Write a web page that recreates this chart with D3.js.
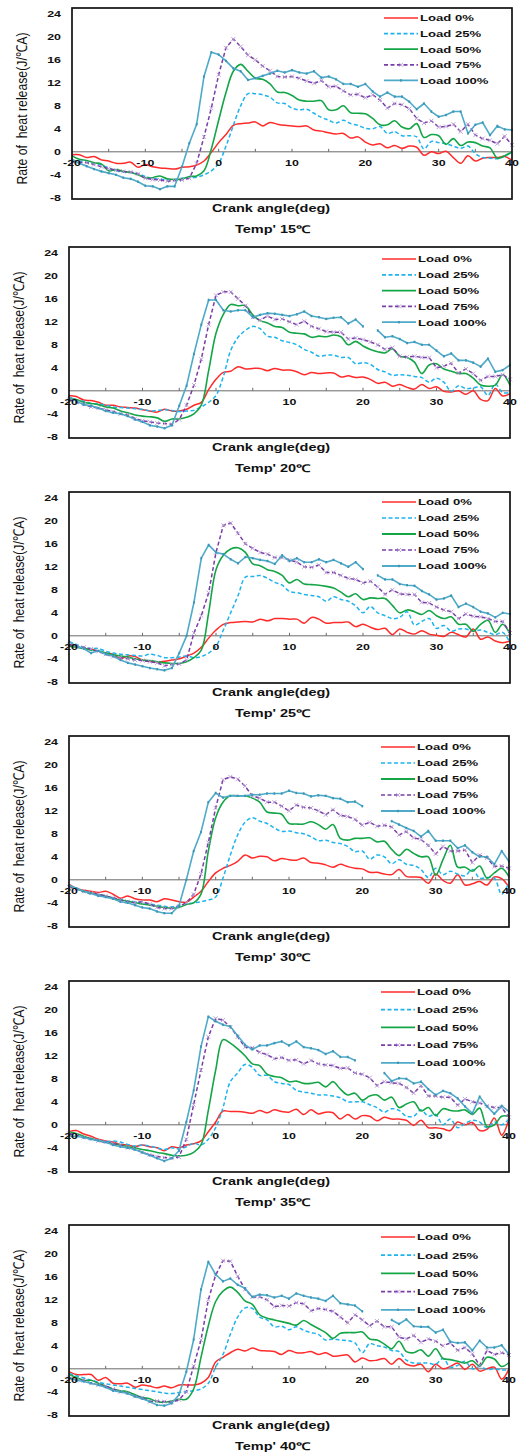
<!DOCTYPE html>
<html>
<head>
<meta charset="utf-8">
<script src="https://cdn.jsdelivr.net/npm/d3@7"></script>
<style>
  html, body { margin: 0; padding: 0; background: #fff; }
  svg { display: block; }
</style>
</head>
<body>
<script>
// Crank angle axis (deg)
const crankAngles = [-20,-19,-18,-17,-16,-15,-14,-13,-12,-11,-10,-9,-8,-7,-6,-5,-4,-3,-2,-1,
  0,1,2,3,4,5,6,7,8,9,10,11,12,13,14,15,16,17,18,19,20,21,22,23,24,25,26,27,28,29,30,
  31,32,33,34,35,36,37,38,39,40];

const loadNames = ["Load 0%", "Load 25%", "Load 50%", "Load 75%", "Load 100%"];
const tempTitles = ["Temp' 15\u2103", "Temp' 20\u2103", "Temp' 25\u2103", "Temp' 30\u2103", "Temp' 35\u2103", "Temp' 40\u2103"];
const yTickValues = [-8, -4, 0, 4, 8, 12, 16, 20, 24];
const xTickValues = [-20, -10, 0, 10, 20, 30, 40];
const xTickMarks = [-15, -10, -5, 0, 5, 10, 15, 20, 25, 30, 35];

// Rate of heat release (J/°CA), one array per intake temperature and load
const rhr15_load0 = [-0.5,-0.5,-1.0,-0.8,-1.4,-1.6,-2.0,-2.0,-1.8,-2.7,-2.2,-2.6,-2.8,-2.9,-3.0,-2.7,-2.6,-2.3,-1.6,-0.1,
  1.6,3.0,4.6,4.9,5.0,5.2,4.5,5.1,4.8,4.6, 4.5,4.4,4.5,3.8,3.6,3.3,3.1,3.2,2.4,2.6,
  1.7,1.2,1.4,0.7,1.1,0.6,1.0,0.8,-0.6,0.0, -0.3,0.1,-1.0,-2.0,-0.7,-1.6,-1.1,-1.0,-1.0,-0.8, -1.5];
const rhr15_load25 = [-1.5,-1.6,-1.8,-2.0,-2.3,-2.8,-3.3,-3.5,-3.6,-3.8,-4.3,-4.6,-4.8,-4.8,-4.8,-4.6,-4.5,-4.4,-4.0,-3.3,
  -2.0,1.0,4.6,8.0,10.1,10.1,9.9,9.5,8.5,8.4, 7.6,7.3,7.4,6.7,6.0,5.5,5.0,5.5,4.9,4.6,
  4.1,4.0,4.4,3.2,3.5,2.8,2.8,2.6,0.5,1.8, 1.6,1.4,1.0,0.6,1.0,-0.3,-1.0,-1.1,-1.2,-0.8, 0.0];
const rhr15_load50 = [-0.7,-1.3,-1.5,-1.9,-2.1,-3.3,-3.1,-3.4,-3.6,-4.0,-4.5,-4.5,-4.2,-4.7,-4.8,-4.7,-4.3,-4.2,-3.3,0.5,
  5.5,10.3,14.0,15.2,14.0,12.8,12.6,11.8,10.4,10.3, 9.8,9.0,8.8,8.8,8.9,7.3,7.3,8.0,6.8,6.7,
  6.6,5.8,4.7,4.7,5.4,4.3,4.0,4.9,2.5,3.0, 2.8,1.3,2.3,1.1,1.7,1.6,1.0,0.7,-1.1,-0.7, 0.0];
const rhr15_load75 = [-1.7,-1.8,-1.9,-2.2,-2.6,-2.9,-3.2,-3.4,-3.5,-3.8,-4.6,-4.8,-4.9,-5.1,-5.0,-4.9,-4.6,-2.0,2.6,7.6,
  13.4,18.1,19.6,18.3,16.8,16.0,14.9,14.1,13.1,13.0, 13.1,12.8,12.3,11.9,12.4,11.3,11.4,10.6,9.9,10.0,
  9.4,9.9,9.0,7.6,8.4,8.2,7.5,5.8,5.0,5.4, 4.3,4.4,4.8,3.5,4.8,2.9,2.3,2.0,1.4,2.7, 1.2];
const rhr15_load100 = [-1.3,-2.0,-2.5,-3.0,-3.4,-3.7,-4.0,-4.5,-4.7,-5.2,-5.9,-6.0,-6.5,-6.0,-6.0,-2.6,1.5,4.8,13.1,17.3,
  16.9,15.8,14.5,14.0,12.5,12.8,13.2,13.6,14.1,13.8, 14.2,13.8,13.6,14.0,12.9,13.1,12.6,11.8,11.8,11.3,
  11.8,10.5,9.6,10.3,9.6,9.6,8.7,7.4,8.4,7.0, 6.1,6.4,7.0,7.0,3.2,4.7,5.1,2.9,4.5,3.9, 3.8];

const rhr20_load0 = [-0.8,-1.0,-1.6,-1.7,-2.0,-2.5,-2.5,-2.8,-2.9,-3.0,-3.3,-3.5,-3.7,-3.2,-3.5,-3.5,-3.2,-2.5,-2.0,0.2,
  2.0,3.2,3.4,4.2,3.8,3.9,3.9,3.5,3.9,3.6, 3.6,3.3,2.8,3.2,3.0,3.1,3.1,2.4,2.6,2.3,
  2.4,2.0,1.3,1.5,0.8,1.1,0.6,0.3,1.1,0.4, 0.7,-0.1,-0.2,0.0,-0.6,0.0,-1.5,-1.7,0.4,-0.9, -0.5];
const rhr20_load25 = [-1.2,-1.8,-1.8,-2.2,-2.3,-2.5,-2.8,-2.9,-3.0,-3.1,-3.2,-3.5,-3.4,-3.3,-3.4,-3.6,-3.5,-3.4,-2.8,-2.0,
  -0.8,2.5,7.0,9.3,10.5,11.2,10.8,9.5,9.3,8.7, 8.4,8.0,7.2,6.7,6.0,6.2,6.2,5.8,5.8,4.7,
  4.9,4.6,3.7,3.3,2.7,2.8,2.7,2.5,2.3,1.5, 2.2,1.5,-0.1,0.9,0.4,0.5,0.7,-0.8,1.2,-0.3, -0.3];
const rhr20_load50 = [-1.2,-1.5,-2.0,-2.2,-2.4,-2.8,-3.0,-3.5,-3.8,-4.2,-4.4,-4.5,-4.7,-5.3,-4.9,-4.9,-4.6,-4.0,-2.5,3.5,
  10.0,13.3,15.0,14.8,14.8,13.2,12.2,11.8,11.2,11.0, 10.2,10.0,9.9,9.3,9.5,9.4,9.7,9.4,8.0,8.6,
  7.8,7.2,6.8,6.6,7.3,6.0,5.8,5.0,3.0,4.5, 4.7,3.8,3.4,3.0,3.0,2.2,1.0,0.8,1.0,2.8, 1.0];
const rhr20_load75 = [-1.5,-2.0,-2.3,-2.8,-3.0,-3.3,-3.6,-4.0,-4.2,-4.8,-5.2,-5.4,-5.6,-5.7,-5.8,-5.0,-2.5,1.0,5.5,11.5,
  16.6,17.2,17.2,16.0,14.8,12.8,12.3,13.0,12.4,12.5, 12.0,11.5,12.1,11.2,10.8,10.3,10.2,10.2,9.0,9.2,
  8.9,8.5,8.0,7.2,7.5,6.0,5.9,6.0,5.8,5.8, 4.0,4.3,4.8,3.1,3.8,3.0,1.8,2.5,2.5,2.8, 2.0];
const rhr20_load100 = [-1.0,-1.8,-2.4,-2.6,-3.0,-3.5,-3.8,-4.0,-4.4,-5.0,-5.4,-6.0,-6.2,-6.5,-6.0,-2.6,0.9,6.4,11.5,15.8,
  15.8,14.0,13.8,14.0,14.0,12.8,13.2,13.5,13.4,13.2, 13.0,13.3,13.8,13.0,12.8,12.5,12.7,12.8,11.7,12.4,
  11.2,null,10.5,9.3,9.5,9.0,8.3,8.5,8.0,8.0, 7.0,6.0,6.5,5.3,5.3,4.9,4.2,5.6,3.3,3.6, 4.5];

const rhr25_load0 = [-1.5,-1.8,-2.2,-2.3,-2.7,-3.0,-3.2,-4.0,-3.5,-3.6,-4.2,-4.4,-4.5,-4.4,-4.2,-4.0,-3.5,-3.0,-2.0,-0.4,
  1.0,2.0,2.3,2.4,2.5,2.4,2.9,2.6,3.0,3.0, 2.9,2.9,2.2,3.2,2.9,2.2,2.3,2.3,2.4,1.6,
  2.0,1.5,1.1,1.3,0.2,1.2,0.6,0.3,0.9,0.3, 0.1,-0.1,0.6,0.2,-0.2,1.2,-0.6,-0.2,-0.9,-1.2, -0.9];
const rhr25_load25 = [-1.0,-1.5,-2.0,-2.2,-2.2,-2.7,-3.0,-3.2,-3.3,-3.4,-3.5,-3.2,-3.4,-3.8,-3.8,-3.7,-3.5,-3.8,-3.6,-3.0,
  -1.8,1.0,4.0,7.0,10.2,10.3,10.5,10.0,9.3,8.8, 7.7,7.5,7.2,7.0,6.8,6.0,6.8,6.3,6.0,5.2,
  4.0,5.1,4.0,3.5,3.0,3.2,4.2,1.9,2.5,3.0, 1.3,1.8,0.8,1.2,1.2,0.8,1.0,0.6,0.2,0.6, -1.2];
const rhr25_load50 = [-1.8,-2.0,-2.2,-2.5,-2.6,-3.0,-3.3,-3.5,-3.7,-4.0,-4.2,-4.3,-4.5,-4.7,-4.8,-4.8,-4.5,-3.8,-2.5,4.0,
  11.5,14.0,15.1,15.3,14.5,12.5,12.2,11.5,11.2,10.5, 9.2,9.8,9.0,8.9,8.8,8.6,8.3,7.6,6.8,7.3,
  6.3,6.6,6.5,6.5,5.3,4.0,4.5,4.2,3.7,4.4, 3.5,3.0,3.3,2.0,2.0,0.8,2.0,2.7,0.6,2.0, 0.3];
const rhr25_load75 = [-1.5,-1.8,-2.0,-2.3,-2.7,-3.2,-3.6,-3.8,-4.0,-4.2,-4.3,-4.5,-4.7,-5.2,-5.0,-4.9,-4.2,0.5,3.5,7.5,
  14.5,19.2,19.6,17.8,16.0,15.2,14.5,14.2,13.6,13.6, 13.2,12.8,12.0,11.9,12.3,11.0,11.0,10.5,10.0,9.8,
  9.2,9.5,8.5,7.2,8.0,7.3,7.2,7.2,5.8,5.7, 5.0,4.5,4.2,3.0,3.8,3.4,3.3,3.0,2.5,2.5, 0.5];
const rhr25_load100 = [-1.0,-1.8,-2.2,-3.0,-2.6,-3.2,-3.5,-4.2,-4.7,-5.0,-5.3,-5.6,-5.8,-6.0,-5.6,-3.0,0.0,5.8,13.5,15.8,
  14.5,14.2,13.3,12.6,13.7,13.5,13.2,13.0,12.5,14.0, 13.0,13.5,12.8,12.8,13.3,12.8,13.2,12.6,12.0,12.8,
  11.6,null,10.5,9.8,9.8,9.0,8.8,8.7,7.8,7.2, 6.3,6.5,7.0,5.0,5.6,5.0,4.2,3.9,3.2,4.0, 3.8];

const rhr30_load0 = [-0.8,-1.5,-1.8,-2.0,-2.2,-2.0,-2.5,-3.2,-2.8,-3.3,-3.5,-3.5,-3.8,-3.3,-3.5,-3.8,-3.9,-3.0,-2.0,-0.3,
  1.2,2.0,2.5,3.2,4.3,3.8,4.1,4.0,3.3,3.7, 3.5,3.4,3.8,3.0,2.9,2.6,2.2,2.7,2.3,2.0,
  1.9,1.3,1.3,1.0,0.9,1.8,0.6,0.5,0.4,-0.6, 1.0,-0.1,-0.6,0.9,-0.9,-0.7,-0.3,-0.9,0.5,0.2, -1.3];
const rhr30_load25 = [-1.0,-1.5,-2.0,-2.5,-2.6,-3.0,-3.2,-3.4,-3.7,-3.8,-4.0,-4.2,-4.4,-4.6,-4.7,-4.5,-4.2,-4.0,-3.8,-3.5,
  -3.0,0.3,4.3,7.8,10.0,10.8,10.2,9.8,9.0,8.4, 8.5,8.2,8.0,7.5,6.8,6.9,6.5,6.3,5.8,4.9,
  5.0,3.6,4.3,4.0,2.8,3.5,2.7,2.5,1.8,0.4, 2.0,0.9,1.5,1.0,0.7,1.8,0.3,0.4,0.3,-2.5, -0.5];
const rhr30_load50 = [-1.0,-1.5,-2.0,-2.3,-2.6,-2.8,-3.2,-3.5,-3.7,-4.0,-4.2,-4.4,-4.6,-4.8,-4.9,-4.8,-4.3,-4.0,-2.5,5.0,
  10.8,13.5,14.6,14.6,14.6,14.2,13.5,11.8,11.6,11.4, 9.8,9.7,9.7,10.1,9.6,8.8,9.6,7.2,6.9,7.2,
  7.2,7.3,6.6,6.7,5.3,4.2,5.3,4.6,4.0,4.0, 0.8,3.5,6.0,2.2,2.2,1.5,2.4,0.3,1.2,2.0, 0.5];
const rhr30_load75 = [-1.2,-1.6,-2.0,-2.3,-2.5,-2.8,-3.1,-3.5,-3.8,-4.0,-3.8,-4.2,-4.8,-5.0,-5.0,-4.6,-4.0,-2.5,1.0,6.5,
  12.5,17.4,17.9,17.5,16.3,14.6,14.2,13.5,13.5,12.8, 12.0,13.0,12.6,12.5,12.0,11.3,12.2,11.2,11.0,10.5,
  9.5,10.0,9.3,9.5,9.2,7.8,8.4,7.3,7.0,6.0, 4.5,5.8,5.0,5.0,5.2,3.0,4.3,3.8,2.3,2.4, 2.0];
const rhr30_load100 = [-1.0,-1.5,-2.0,-2.3,-2.8,-3.0,-3.3,-3.8,-4.0,-4.4,-4.8,-5.0,-5.5,-5.8,-5.8,-4.5,0.0,5.0,8.3,13.5,
  15.1,14.3,14.6,14.6,14.6,14.8,14.8,15.0,15.0,15.0, 15.5,15.1,15.0,14.5,14.7,14.6,14.2,14.1,13.5,13.6,
  12.8,null,null,null,10.2,9.6,9.0,8.5,7.5,8.5, 6.8,6.8,6.8,5.5,6.0,4.8,4.0,4.0,2.7,5.0, 3.2];

const rhr35_load0 = [-1.2,-1.0,-1.6,-2.0,-2.5,-2.8,-3.0,-3.4,-3.5,-3.8,-3.5,-3.8,-4.0,-4.5,-3.8,-4.0,-3.5,-3.3,-2.8,-1.2,
  0.5,2.4,2.3,2.3,2.2,2.0,2.5,2.1,2.6,2.3, 2.2,2.7,1.8,2.6,1.9,2.2,2.1,1.0,1.8,1.0,
  1.6,1.5,0.7,1.3,1.0,1.0,0.8,-0.1,0.8,-0.5, -0.5,-0.7,-1.0,0.5,0.0,0.4,-1.0,-0.8,1.2,-1.8, 1.0];
const rhr35_load25 = [-1.5,-1.8,-2.2,-2.5,-2.8,-3.0,-2.8,-3.0,-3.4,-3.7,-3.5,-3.7,-4.0,-4.3,-4.0,-4.2,-3.8,-3.2,-3.5,-2.5,
  -0.5,3.0,7.5,9.0,10.5,10.0,8.6,8.6,7.5,7.2, 7.0,6.0,5.7,5.5,5.2,5.2,5.0,4.7,4.0,4.0,
  4.0,3.5,3.0,2.2,2.8,2.5,1.5,1.5,2.6,1.5, 1.8,0.0,1.0,-0.5,0.2,0.8,0.5,-0.5,0.5,0.0, 1.0];
const rhr35_load50 = [-1.2,-1.5,-2.0,-2.4,-2.7,-3.0,-3.3,-3.5,-3.8,-4.0,-4.3,-4.5,-4.8,-5.0,-5.3,-5.4,-5.3,-4.8,-3.5,2.5,
  9.5,14.8,14.2,13.2,12.0,10.6,10.3,8.8,8.4,8.2, 7.5,7.6,7.2,7.2,7.4,6.6,7.5,6.2,5.2,5.5,
  4.3,5.0,5.2,4.3,4.8,3.0,3.6,4.0,2.4,3.0, 1.6,2.8,2.5,2.4,2.6,1.8,2.9,-0.3,0.0,1.5, 1.5];
const rhr35_load75 = [-1.5,-1.8,-2.2,-2.4,-2.8,-3.0,-3.3,-3.5,-4.0,-4.2,-4.8,-5.2,-5.5,-5.7,-5.8,-5.6,-2.5,3.5,9.5,15.3,
  18.5,18.2,17.0,15.3,13.5,13.4,12.6,12.2,11.5,11.7, 11.2,11.3,10.6,11.2,10.6,10.4,10.3,9.8,9.9,9.0,
  8.8,8.2,6.8,7.5,7.3,7.2,6.5,5.5,6.8,5.0, 5.0,4.8,4.8,3.4,4.5,4.0,3.8,3.3,3.0,3.0, 1.3];
const rhr35_load100 = [-2.0,-2.0,-2.2,-2.5,-2.7,-3.0,-3.5,-3.8,-4.0,-4.3,-4.8,-5.3,-5.8,-6.3,-5.8,-4.5,0.5,6.0,13.6,18.8,
  18.0,17.4,17.1,15.5,13.9,13.1,13.8,13.8,14.2,14.5, 13.8,14.5,13.5,13.3,13.0,12.3,12.8,11.8,11.8,11.2,
  null,null,null,9.0,7.6,8.1,8.0,7.2,7.5,6.2, 5.2,5.9,5.5,4.6,3.2,2.0,4.9,3.2,1.9,3.3, 2.3];

const rhr40_load0 = [-0.5,-1.0,-1.0,-1.0,-2.0,-1.5,-2.5,-2.6,-2.5,-3.2,-2.8,-3.0,-3.3,-3.0,-3.3,-2.8,-2.8,-2.8,-2.5,-1.5,
  1.2,2.0,2.8,3.4,3.1,3.6,3.2,3.1,3.0,2.5, 3.2,2.8,2.8,3.0,2.5,2.8,2.2,2.3,2.4,1.2,
  1.9,1.4,1.5,1.8,0.8,1.8,0.8,0.5,0.8,-0.5, 0.8,0.0,0.4,1.0,-0.1,0.8,-0.4,0.0,0.3,-1.8, 0.0];
const rhr40_load25 = [-0.8,-1.2,-1.6,-2.0,-2.3,-2.6,-2.8,-3.0,-3.2,-3.4,-3.6,-3.8,-4.0,-4.2,-4.3,-4.1,-4.0,-3.8,-3.5,-2.5,
  0.3,2.5,6.0,9.0,10.6,10.5,9.0,8.5,7.3,7.4, 6.8,7.3,6.7,6.3,6.0,5.0,5.2,5.0,4.9,4.5,
  2.8,4.4,4.0,3.8,3.2,3.0,1.5,1.0,1.0,1.0, 0.8,1.8,0.3,0.6,1.3,0.0,0.4,-0.1,0.0,-0.2, -0.2];
const rhr40_load50 = [-1.0,-1.5,-2.0,-2.0,-2.5,-3.0,-3.5,-3.8,-4.0,-4.5,-5.0,-5.2,-5.7,-5.8,-5.6,-5.3,-5.3,-3.5,2.0,7.5,
  11.7,13.5,14.2,13.3,11.8,11.2,9.4,8.8,8.5,8.2, 7.9,7.6,8.4,7.7,7.0,6.3,5.3,6.2,6.3,6.3,
  6.4,5.2,5.0,4.3,3.5,4.8,3.0,2.8,3.3,2.2, 3.5,1.8,1.6,1.3,1.0,1.4,0.5,2.0,1.7,0.4, 1.1];
const rhr40_load75 = [-1.5,-2.0,-2.0,-2.5,-2.8,-3.0,-3.5,-4.0,-4.2,-4.8,-5.0,-5.7,-5.6,-5.7,-5.8,-5.4,-4.0,0.5,5.0,12.0,
  16.3,18.8,18.7,16.1,13.8,12.5,12.5,12.0,10.8,11.0, 10.9,11.5,11.3,10.1,10.5,10.3,10.0,9.0,8.0,9.4,
  8.5,7.5,8.3,7.3,7.3,5.5,5.2,5.8,4.6,5.2, 4.8,4.0,4.5,3.2,3.7,2.6,0.6,3.2,2.5,2.8, 2.4];
const rhr40_load100 = [-1.5,-2.0,-2.2,-2.5,-2.8,-3.2,-3.8,-4.0,-4.3,-4.8,-5.2,-5.7,-6.3,-6.4,-6.0,-4.5,-0.5,5.1,13.8,18.6,
  16.4,15.2,15.7,14.6,14.0,12.5,12.9,12.8,12.4,12.7, 12.2,13.1,12.7,12.4,12.2,11.8,12.7,11.4,11.2,11.0,
  10.0,null,null,null,8.5,7.8,8.6,7.4,7.3,7.3, 6.3,6.8,4.7,4.5,4.6,3.2,4.9,3.7,3.7,4.1, 2.5];

const panelSeries = [
  [rhr15_load0, rhr15_load25, rhr15_load50, rhr15_load75, rhr15_load100],
  [rhr20_load0, rhr20_load25, rhr20_load50, rhr20_load75, rhr20_load100],
  [rhr25_load0, rhr25_load25, rhr25_load50, rhr25_load75, rhr25_load100],
  [rhr30_load0, rhr30_load25, rhr30_load50, rhr30_load75, rhr30_load100],
  [rhr35_load0, rhr35_load25, rhr35_load50, rhr35_load75, rhr35_load100],
  [rhr40_load0, rhr40_load25, rhr40_load50, rhr40_load75, rhr40_load100]
];

// ---- layout & styling ----
const W = 520, H = 1456;
const frames = [
  { left: 72, right: 512, top: 8,    legTop: 10, legStep: 15.6 },
  { left: 69, right: 510, top: 247,  legTop: 12, legStep: 15.8 },
  { left: 69, right: 510, top: 492,  legTop: 10, legStep: 16.0 },
  { left: 69, right: 509, top: 736,  legTop: 11, legStep: 16.0 },
  { left: 69, right: 509, top: 981,  legTop: 11, legStep: 17.7 },
  { left: 69, right: 509, top: 1225, legTop: 12, legStep: 18.2 }
];
const plotH = 191;
const stretch = 1.38;
const boldFont = "'Liberation Sans', Arial, sans-serif";
const yTitleLength = 152;

const seriesStyle = [
  { color: "#ff2b2b", width: 1.5, dash: null,      smooth: true,  marker: null },
  { color: "#1db4ee", width: 1.5, dash: "4,2.5",   smooth: true,  marker: null },
  { color: "#14a547", width: 1.6, dash: null,      smooth: true,  marker: null },
  { color: "#7a3ea8", width: 1.5, dash: "4,2.5",   smooth: false, marker: "cross" },
  { color: "#4eaac8", width: 1.6, dash: null,      smooth: false, marker: "dot" }
];

const svg = d3.select("body").append("svg")
  .attr("width", W).attr("height", H)
  .attr("viewBox", `0 0 ${W} ${H}`);

svg.append("rect").attr("width", W).attr("height", H).attr("fill", "#fff");

function wideText(g, x, y, str, size, anchor, weight) {
  return g.append("text")
    .attr("transform", `translate(${x},${y}) scale(${stretch},1)`)
    .attr("text-anchor", anchor)
    .attr("font-family", boldFont)
    .attr("font-weight", weight || "bold")
    .attr("font-size", size)
    .attr("fill", "#111")
    .text(str);
}

function drawMarkers(g, pts, kind) {
  if (kind === "cross") {
    g.selectAll(null).data(pts).join("path")
      .attr("d", d => `M${d[0]-2},${d[1]-2}L${d[0]+2},${d[1]+2}M${d[0]-2},${d[1]+2}L${d[0]+2},${d[1]-2}`)
      .attr("stroke", "#b79ad4").attr("stroke-width", 0.9).attr("fill", "none");
  } else if (kind === "dot") {
    g.selectAll(null).data(pts).join("rect")
      .attr("x", d => d[0] - 0.9).attr("y", d => d[1] - 1.2)
      .attr("width", 1.8).attr("height", 2.4)
      .attr("fill", "#3a95b6");
  }
}

frames.forEach((f, pi) => {
  const bottom = f.top + plotH;
  const x = d3.scaleLinear().domain([-20, 40]).range([f.left, f.right]);
  const y = d3.scaleLinear().domain([-8.2, 25]).range([bottom, f.top]);
  const g = svg.append("g");

  // zero line with small tick marks
  g.append("line")
    .attr("x1", f.left).attr("x2", f.right)
    .attr("y1", y(0)).attr("y2", y(0))
    .attr("stroke", "#6a6a6a").attr("stroke-width", 1);
  g.selectAll(null).data(xTickMarks).join("line")
    .attr("x1", d => x(d)).attr("x2", d => x(d))
    .attr("y1", y(0)).attr("y2", y(0) - 3)
    .attr("stroke", "#6a6a6a").attr("stroke-width", 1);

  // series
  panelSeries[pi].forEach((vals, si) => {
    const st = seriesStyle[si];
    const pts = crankAngles.map((a, i) => [a, vals[i]]);
    const line = d3.line()
      .defined(d => d[1] !== null)
      .x(d => x(d[0])).y(d => y(d[1]))
      .curve(st.smooth ? d3.curveCatmullRom.alpha(0.5) : d3.curveLinear);
    g.append("path")
      .attr("d", line(pts))
      .attr("fill", "none")
      .attr("stroke", st.color)
      .attr("stroke-width", st.width)
      .attr("stroke-linejoin", "round")
      .attr("stroke-dasharray", st.dash);
    if (st.marker) {
      const mp = pts.filter(d => d[1] !== null).map(d => [x(d[0]), y(d[1])]);
      drawMarkers(g.append("g"), mp, st.marker);
    }
  });

  // frame
  g.append("rect")
    .attr("x", f.left).attr("y", f.top)
    .attr("width", f.right - f.left).attr("height", plotH)
    .attr("fill", "none").attr("stroke", "#111").attr("stroke-width", 1.7);

  // y tick labels
  yTickValues.forEach(v => {
    wideText(g, f.left - 11, y(v) + 3.2, String(v), 9, "end");
  });

  // x tick labels under the zero line
  xTickValues.forEach(v => {
    wideText(g, x(v), y(0) + 14, String(v), 9, "middle");
  });

  // y-axis title: condensed along its length to fit the frame height
  const yt = g.append("text")
    .attr("text-anchor", "middle")
    .attr("font-family", "'Liberation Sans Narrow', 'Arial Narrow', 'Liberation Sans', sans-serif")
    .attr("font-size", 15)
    .attr("fill", "#111")
    .style("white-space", "pre")
    .text("Rate of  heat release(J/\u2103A)");
  const natural = yt.node().getComputedTextLength() || yTitleLength;
  const squeeze = Math.min(1, yTitleLength / natural);
  yt.attr("transform",
    `translate(${f.left - 45},${f.top + plotH / 2 + 5}) rotate(-90) scale(${squeeze},1)`);

  wideText(g, 271, bottom + 12.5, "Crank angle(deg)", 10.5, "middle");
  wideText(g, 273, bottom + 34, tempTitles[pi], 10.5, "middle");

  // legend
  const lx0 = f.right - 128, lx1 = lx0 + 34;
  loadNames.forEach((name, si) => {
    const st = seriesStyle[si];
    const ly = f.top + f.legTop + si * f.legStep;
    g.append("line")
      .attr("x1", lx0).attr("x2", lx1).attr("y1", ly).attr("y2", ly)
      .attr("stroke", st.color).attr("stroke-width", st.width + 0.2)
      .attr("stroke-dasharray", st.dash);
    if (st.marker) drawMarkers(g.append("g"), [[(lx0 + lx1) / 2, ly]], st.marker);
    wideText(g, lx1 + 2, ly + 3.3, name, 9.5, "start");
  });
});
</script>
</body>
</html>
